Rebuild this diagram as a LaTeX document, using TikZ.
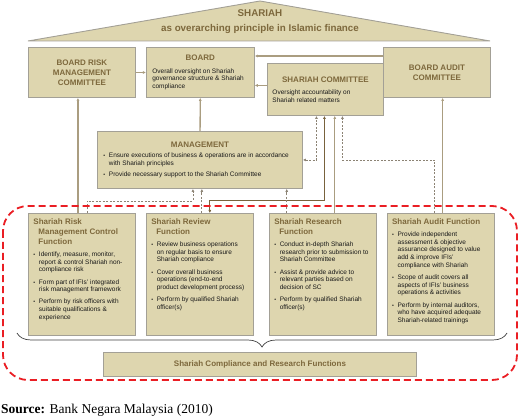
\documentclass[tikz,border=0pt]{standalone}
\usepackage{fontspec}
\setmainfont{Liberation Serif}
\setsansfont{Liberation Sans}
\usetikzlibrary{positioning,arrows.meta,decorations.pathreplacing,shadows}

\definecolor{boxfill}{RGB}{222,214,175}
\definecolor{boxline}{RGB}{163,160,150}
\definecolor{headbrown}{RGB}{125,104,60}
\definecolor{linktan}{RGB}{170,157,128}
\definecolor{linkdark}{RGB}{120,98,60}
\definecolor{linkgrey}{RGB}{140,131,116}
\definecolor{scred}{RGB}{234,30,36}

\newcommand{\hd}{\sffamily\bfseries\fontsize{8}{10}\selectfont\color{headbrown}}
\newcommand{\bd}{\sffamily\fontsize{6.5}{7.7}\selectfont\color{black!90}}
\newcommand{\bul}[2][4.5pt]{\par\vspace{#1}\noindent\hangindent=5.5pt\hangafter=1%
  \makebox[5.5pt][l]{\scalebox{0.8}{\textbullet}}#2\par}
\newcommand{\fnbody}[1]{\parbox[t][112pt][t]{97pt}{#1}}

\begin{document}
\begin{tikzpicture}[x=1pt,y=-1pt,>={Latex[length=3pt,width=3pt]},
  unit/.style={rectangle,draw=boxline,line width=0.9pt,fill=boxfill,inner sep=0pt,
    drop shadow={shadow xshift=0.7pt,shadow yshift=-0.7pt,fill=black,opacity=0.2}},
  panel/.style={unit,anchor=north west,minimum width=107pt,minimum height=50pt,
    align=center,font=\hd},
  note/.style={unit,anchor=north west,inner xsep=6pt,inner ysep=0pt},
  func/.style={unit,anchor=north west,inner sep=5pt},
  link/.style={draw=linktan,line width=1.3pt,->},
  dlink/.style={draw=linkgrey,line width=0.8pt,dash pattern=on 2pt off 1.5pt,->}]
  \useasboundingbox (0,0) rectangle (520,417);

  % roof
  \draw[draw=boxline,line width=0.9pt,fill=boxfill] (28,41) -- (260,1) -- (490,41) -- cycle;
  \node[align=center,text=headbrown,font=\sffamily\bfseries\fontsize{9.8}{15}\selectfont]
    (roof) at (260,22) {SHARIAH\\as overarching principle in Islamic finance};

  % board level
  \node (brmc)[panel] at (28,47) {BOARD RISK\\MANAGEMENT\\COMMITTEE};
  \node (board)[note,right=10pt of brmc,minimum height=50pt] {\parbox{96pt}{%
    {\centering\hd BOARD\par}\vspace{5pt}
    \bd Overall oversight on Shariah\\governance structure \& Shariah\\compliance}};
  \node (sc)[note,inner xsep=5pt,minimum height=52pt] at (267,63) {\parbox{106pt}{%
    {\centering\hd SHARIAH COMMITTEE\par}\vspace{4.3pt}
    \bd Oversight accountability on\\Shariah related matters}};
  \node (bac)[panel] at (383,47) {BOARD AUDIT\\COMMITTEE};

  \node (mgmt)[note,minimum height=57pt] at (97,131) {\parbox{193pt}{%
    {\centering\hd MANAGEMENT\par}\vspace{2.3pt}\bd
    \bul[0pt]{Ensure executions of business \& operations are in accordance\\with Shariah principles}
    \bul[3.3pt]{Provide necessary support to the Shariah Committee}}};

  % functions
  \node (risk)[func] at (28,213) {\fnbody{%
    {\hd\hangindent=5pt\hangafter=1 Shariah Risk\\Management Control\\Function\par}\bd
    \bul{Identify, measure, monitor,\\report \& control Shariah non-\\compliance risk}
    \bul{Form part of IFIs’ integrated\\risk management framework}
    \bul{Perform by risk officers with\\suitable qualifications \&\\experience}}};
  \node (review)[func,right=10pt of risk] {\fnbody{%
    {\hd\hangindent=5pt\hangafter=1 Shariah Review\\Function\par}\bd
    \bul{Review business operations\\on regular basis to ensure\\Shariah compliance}
    \bul{Cover overall business\\operations (end-to-end\\product development process)}
    \bul{Perform by qualified Shariah\\officer(s)}}};
  \node (research)[func,right=15pt of review] {\fnbody{%
    {\hd\hangindent=5pt\hangafter=1 Shariah Research\\Function\par}\bd
    \bul{Conduct in-depth Shariah\\research prior to submission to\\Shariah Committee}
    \bul{Assist \& provide advice to\\relevant parties based on\\decision of SC}
    \bul{Perform by qualified Shariah\\officer(s)}}};
  \node (audit)[func,right=10pt of research] {\fnbody{%
    {\hd Shariah Audit Function\par}\bd
    \bul{Provide independent\\assessment \& objective\\assurance designed to value\\add \& improve IFIs’\\compliance with Shariah}
    \bul{Scope of audit covers all\\aspects of IFIs’ business\\operations \& activities}
    \bul{Perform by internal auditors,\\who have acquired adequate\\Shariah-related trainings}}};

  \node (scrf)[unit,anchor=north west,minimum width=313pt,minimum height=24pt,font=\hd]
    at (103,352) {Shariah Compliance and Research Functions};

  % reporting lines
  \draw[link] (brmc) -- (board);
  \draw[link] ([yshift=-9pt]bac.north west) -- ([yshift=-9pt]board.north east);
  \draw[link] ([yshift=4pt]sc.west) -- ([yshift=4pt]sc.west -| board.east);
  \draw[link] (mgmt) -- (board);
  \draw[link] ([xshift=-4pt]risk.north) -- ([xshift=-4pt]brmc.south);
  \draw[link] ([xshift=2pt]audit.north) -- ([xshift=2pt]audit.north |- bac.south);
  \draw[link] ([xshift=12pt]research.north) -- ([xshift=12pt]research.north |- sc.south);
  \draw[link,draw=linkdark,line width=1pt,<->] ([xshift=10pt]review.north) -- ++(0,-12)
    -| ([xshift=-1pt]sc.south);
  \draw[dlink,<->] (mgmt.east) -| ([xshift=-9pt]sc.south);
  \draw[dlink] ([xshift=-6pt]audit.north) -- ++(0,-53) -| ([xshift=17pt]sc.south);
  \draw[dlink] ([xshift=5pt]risk.north) -- ++(0,-12) -| ([xshift=-7pt]mgmt.south);
  \draw[dlink] ([xshift=2pt]review.north) -- ([xshift=2pt]review.north |- mgmt.south);
  \draw[dlink] ([xshift=-36pt]research.north) -- ([xshift=-36pt]research.north |- mgmt.south);

  % brace and frame
  \draw[decorate,decoration={brace,mirror,amplitude=14pt},line width=0.7pt,black!75]
    (17,333) -- (507,333);
  \draw[scred,line width=1.8pt,dash pattern=on 7pt off 4pt,rounded corners=25pt]
    (3,206) rectangle (517,380);

  \node (source)[anchor=base west,inner sep=0pt,font=\fontsize{13.5}{16}\selectfont]
    at (1,413.5) {\textbf{Source:} Bank Negara Malaysia (2010)};
\end{tikzpicture}
\end{document}
